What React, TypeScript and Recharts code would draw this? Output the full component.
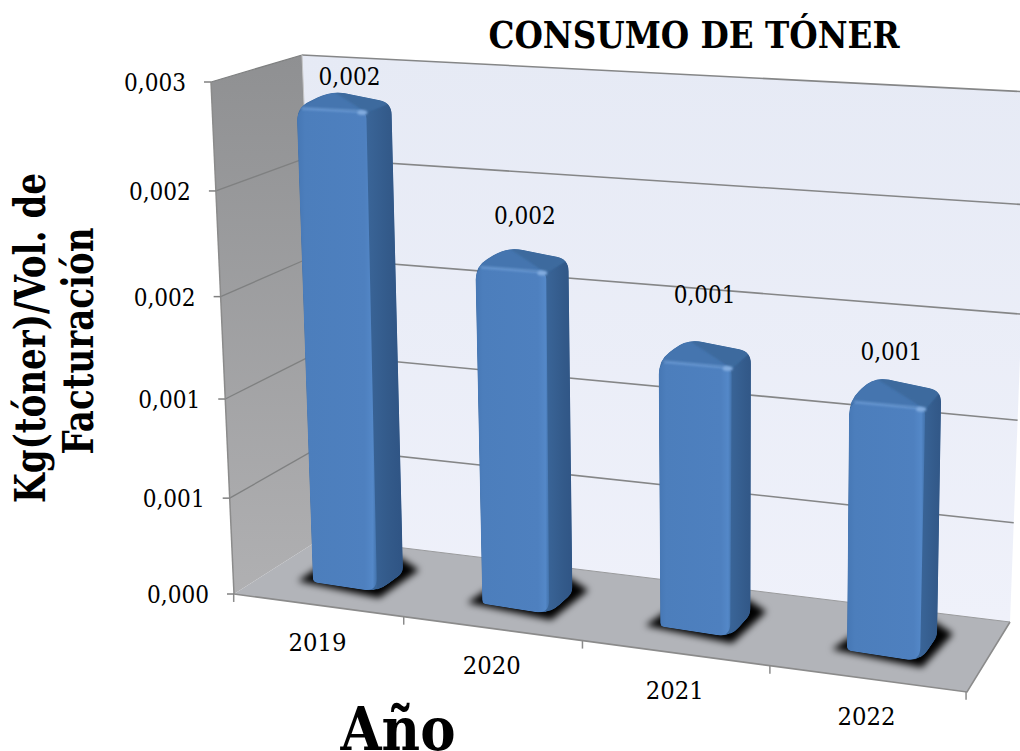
import React from "react";
import { BarChart, Bar, XAxis, YAxis, Customized, LabelList } from "recharts";

const years = ["2019", "2020", "2021", "2022"];
const consumo = [0.00232, 0.00165, 0.0013, 0.00122];
const yTicks = [0, 0.0005, 0.001, 0.0015, 0.002, 0.0025];
const yTickLabels = ["0,000", "0,001", "0,001", "0,002", "0,002", "0,003"];
const labelLift = [14, 31, 44, 25];
const rows = years.map((year, i) => ({ year, consumo: consumo[i] }));

const yMax = 0.0025;
const FONT = "'DejaVu Serif', serif";
type Pt = [number, number];

// Projection of the flat plot into the 3D box of the picture
const warp = (t: number) => t - 0.08 * t * (1 - t);
const mix = (a: Pt, b: Pt, s: number): Pt => [a[0] + (b[0] - a[0]) * s, a[1] + (b[1] - a[1]) * s];
const pts = (list: Pt[]) => list.map((p) => p.join(",")).join(" ");
const add = (p: Pt, dx: number, dy: number): Pt => [p[0] + dx, p[1] + dy];

const frontBottom: Pt = [234, 594];
const frontTop: Pt = [211, 82];
const backBottom: Pt = [322, 538];
const backTop: Pt = [302, 55];
const rightBottom: Pt = [1010, 622];
const rightTop: Pt = [1030, 92];
const frontRight: Pt = [967, 692];

const bandX = (c: number) => {
  const u = (c - 614.25) / 269.25;
  return c - 9.8 * (1 - u * u);
};
const frontX = (c: number) => bandX(c) - (22 - (c - 614) * 0.02);
const edgeY = (x: number) => frontBottom[1] + ((x - frontBottom[0]) * (frontRight[1] - frontBottom[1])) / (frontRight[0] - frontBottom[0]);

function geom(x: number, y: number, width: number, height: number) {
  const c = x + width / 2;
  const h = height;
  const fx = bandX(c);
  const d = fx - 345;
  const fy = 587 + 0.128 * d;
  const lean = (fx - 700) * 8e-5;
  const hb = width / 2 + d * 0.0084;
  const ht = hb + h * 0.006;
  const sb = 0.155;
  const st = 0.155 - 0.00018 * h;
  const top: Pt = [fx + lean * h, fy - h];
  const FLb: Pt = [fx - hb, fy - hb * sb];
  const FRb: Pt = [fx + hb, fy + hb * sb];
  const FLt: Pt = [top[0] - ht, top[1] - ht * st];
  const FRt: Pt = [top[0] + ht, top[1] + ht * st];
  const sdx = 26 - d * 0.0167;
  const sdy = -19 - d * 0.011;
  const BRb = add(FRb, sdx, sdy);
  const BRt = add(FRt, sdx - 1, sdy * (1 - h * 0.001));
  const apex = add(FLt, 35 - d * 0.02, -17 - d * 0.0135);
  return { FLb, FRb, BRb, BRt, FLt, FRt, apex };
}

function rounded(list: Pt[], radii: number[]) {
  const n = list.length;
  let out = "";
  for (let i = 0; i < n; i++) {
    const p = list[i];
    const a = list[(i + n - 1) % n];
    const b = list[(i + 1) % n];
    const r = radii[i];
    const la = Math.hypot(a[0] - p[0], a[1] - p[1]);
    const lb = Math.hypot(b[0] - p[0], b[1] - p[1]);
    const s = mix(p, a, r / la);
    const e = mix(p, b, r / lb);
    out += `${i ? "L" : "M"}${s[0]},${s[1]} Q${p[0]},${p[1]} ${e[0]},${e[1]} `;
  }
  return out + "Z";
}

function Bar3D(props: any) {
  const { x, y, width, height, index } = props;
  const g = geom(x, y, width, height);
  const outline = rounded([g.FLb, g.FRb, g.BRb, g.BRt, g.apex, g.FLt], [4, 14, 6, 12, 16, 14]);
  const id = `bar-clip-${index}`;
  return (
    <g>
      <polygon
        points={pts([add(g.FLb, -15, -1), add(g.FRb, 2, 6), add(g.BRb, 16, -3), add(g.BRb, -4, -16), add(g.FLb, 10, -18)])}
        fill="#000"
        filter="url(#floorShadow)"
      />
      <clipPath id={id}>
        <path d={outline} />
      </clipPath>
      <g clipPath={`url(#${id})`}>
        <path d={outline} fill="#3a6699" />
        <polygon points={pts([g.FRt, g.BRt, add(g.BRt, 6, 0), g.BRb, g.FRb])} fill="url(#barSide)" />
        <polygon points={pts([add(g.FLt, -8, 4), g.apex, add(g.apex, 4, -8), g.FRt])} fill="#4575af" filter="url(#softGlow)" />
        <polygon points={pts([g.apex, add(g.apex, 4, -8), g.BRt, g.FRt])} fill="#3c6a9e" filter="url(#softGlow)" />
        <path d={rounded([g.FLb, g.FRb, g.FRt, g.FLt], [4, 14, 6, 14])} fill="url(#barFront)" />
        <line x1={g.FLt[0] + 5} y1={g.FLt[1] + 1} x2={g.FRt[0] - 4} y2={g.FRt[1] - 1} stroke="#6f9ed6" strokeWidth={3} opacity={0.7} filter="url(#softGlow)" />
        <ellipse cx={g.FRt[0] - 4} cy={g.FRt[1]} rx={5} ry={2.5} fill="#82acdf" filter="url(#softGlow)" />
      </g>
    </g>
  );
}

function ValueLabel(props: any) {
  const { x, y, width, height, value, index } = props;
  const g = geom(x, y, width, height);
  return (
    <text x={g.apex[0] + 18} y={g.apex[1] - labelLift[index]} textAnchor="middle" dominantBaseline="central" fontFamily={FONT} fontSize={24} fill="#000" textLength={62} lengthAdjust="spacingAndGlyphs">
      {Number(value).toFixed(3).replace(".", ",")}
    </text>
  );
}

function YTick(props: any) {
  const { y, payload, index } = props;
  const s = warp((594 - y) / 514);
  const p = mix(frontBottom, frontTop, s);
  return (
    <g>
      <line x1={p[0] - 7} y1={p[1]} x2={p[0]} y2={p[1]} stroke="#808080" strokeWidth={1.5} />
      <text x={p[0] - 56} y={p[1] + 1} textAnchor="middle" dominantBaseline="central" fontFamily={FONT} fontSize={24} fill="#000" textLength={62} lengthAdjust="spacingAndGlyphs">
        {yTickLabels[index] ?? String(payload.value)}
      </text>
    </g>
  );
}

function XTick(props: any) {
  const { x, payload } = props;
  const px = frontX(x);
  return (
    <text x={px} y={edgeY(px) + 38} textAnchor="middle" dominantBaseline="central" fontFamily={FONT} fontSize={24} fill="#000" textLength={58} lengthAdjust="spacingAndGlyphs">
      {payload.value}
    </text>
  );
}

function Walls() {
  const band = 179.5;
  const boundaries = [0, 1, 2, 3, 4].map((k) => 255.25 + band * k);
  return (
    <g>
      <defs>
        <linearGradient id="leftWall" x1="0" y1="0" x2="0" y2="1">
          <stop offset="0" stopColor="#8f9092" />
          <stop offset="1" stopColor="#b0b0b2" />
        </linearGradient>
        <linearGradient id="backWall" x1="0" y1="0" x2="0" y2="1">
          <stop offset="0" stopColor="#e6eaf5" />
          <stop offset="1" stopColor="#eff1fa" />
        </linearGradient>
        <linearGradient id="barFront" x1="0" y1="0" x2="1" y2="0">
          <stop offset="0" stopColor="#4677b4" />
          <stop offset="0.1" stopColor="#4c7ebc" />
          <stop offset="0.85" stopColor="#4e80bf" />
          <stop offset="0.95" stopColor="#5488c8" />
          <stop offset="1" stopColor="#4272ab" />
        </linearGradient>
        <linearGradient id="barSide" x1="0" y1="0" x2="1" y2="0">
          <stop offset="0" stopColor="#3a6598" />
          <stop offset="0.6" stopColor="#335a8a" />
          <stop offset="1" stopColor="#2f5484" />
        </linearGradient>
        <filter id="floorShadow" x="-30%" y="-60%" width="160%" height="220%">
          <feGaussianBlur stdDeviation="3.5" />
        </filter>
        <filter id="softGlow" x="-30%" y="-300%" width="160%" height="700%">
          <feGaussianBlur stdDeviation="1.2" />
        </filter>
      </defs>
      <polygon points={pts([backTop, rightTop, rightBottom, backBottom])} fill="url(#backWall)" />
      <polygon points={pts([frontTop, backTop, backBottom, frontBottom])} fill="url(#leftWall)" />
      <polygon points={pts([frontBottom, backBottom, rightBottom, frontRight])} fill="#b2b4b9" />
      {yTicks.map((v) => {
        const s = warp(v / yMax);
        const f = mix(frontBottom, frontTop, s);
        const b = mix(backBottom, backTop, s);
        const r = mix(rightBottom, rightTop, s);
        return (
          <g key={v}>
            {v > 0 && <line x1={b[0]} y1={b[1]} x2={r[0]} y2={r[1]} stroke="#858687" strokeWidth={1.6} />}
            {v > 0 && <line x1={f[0]} y1={f[1]} x2={b[0]} y2={b[1]} stroke="#7f8081" strokeWidth={1.3} />}
          </g>
        );
      })}
      <line x1={frontBottom[0]} y1={frontBottom[1]} x2={frontTop[0]} y2={frontTop[1]} stroke="#8b8b8b" strokeWidth={1.5} />
      <line x1={backTop[0]} y1={backTop[1]} x2={backBottom[0]} y2={backBottom[1]} stroke="#c4c5c7" strokeWidth={1} />
      <polyline points={pts([frontBottom, frontRight, rightBottom])} fill="none" stroke="#8b8b8b" strokeWidth={1.6} />
      <line x1={backBottom[0]} y1={backBottom[1]} x2={rightBottom[0]} y2={rightBottom[1]} stroke="#9a9b9d" strokeWidth={1} />
      {boundaries.map((c) => {
        const px = frontX(c);
        return <line key={c} x1={px} y1={edgeY(px)} x2={px} y2={edgeY(px) + 8} stroke="#8b8b8b" strokeWidth={1.5} />;
      })}
      <text x={694} y={48} textAnchor="middle" fontFamily={FONT} fontWeight="bold" fontSize={38} fill="#000" textLength={411} lengthAdjust="spacingAndGlyphs">
        CONSUMO DE TÓNER
      </text>
      <text x={398} y={750} textAnchor="middle" fontFamily={FONT} fontWeight="bold" fontSize={59} fill="#000" textLength={115} lengthAdjust="spacingAndGlyphs">
        Año
      </text>
      <text transform="translate(45 338) rotate(-90)" textAnchor="middle" fontFamily={FONT} fontWeight="bold" fontSize={42} fill="#000" textLength={330} lengthAdjust="spacingAndGlyphs">
        Kg(tóner)/Vol. de
      </text>
      <text transform="translate(93 341) rotate(-90)" textAnchor="middle" fontFamily={FONT} fontWeight="bold" fontSize={42} fill="#000" textLength={227} lengthAdjust="spacingAndGlyphs">
        Facturación
      </text>
    </g>
  );
}

export default function App() {
  return (
    <div style={{ position: "absolute", left: 0, top: 0, width: 1020, height: 751, background: "#fff" }}>
      <BarChart width={1020} height={751} data={rows} margin={{ top: 80, right: 47, bottom: 127, left: 195 }} barSize={64}>
        <Customized component={Walls} />
        <XAxis dataKey="year" height={30} axisLine={false} tickLine={false} tick={<XTick />} interval={0} />
        <YAxis width={60} domain={[0, yMax]} ticks={yTicks} axisLine={false} tickLine={false} tick={<YTick />} interval={0} />
        <Bar dataKey="consumo" shape={<Bar3D />} isAnimationActive={false}>
          <LabelList dataKey="consumo" content={<ValueLabel />} />
        </Bar>
      </BarChart>
    </div>
  );
}
